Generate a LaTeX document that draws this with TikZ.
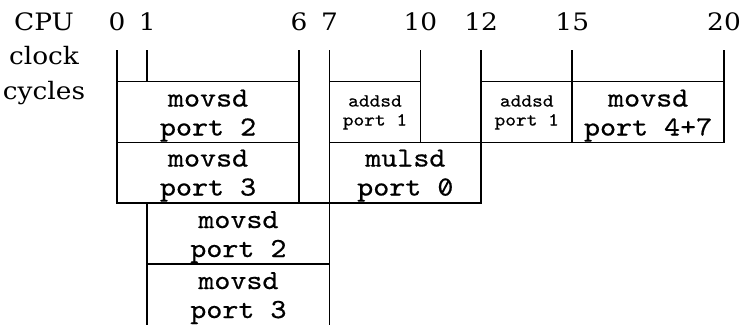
\documentclass[tikz,border=0pt]{standalone}
\usepackage{fontspec}
\usepackage{graphicx}
\newfontfamily\labelfont[FakeStretch=1.1]{DejaVu Serif}
\newfontfamily\opfont[FakeStretch=1.11,FakeBold=0.6]{lmmono10-regular.otf}
% slashed zero for the port numbers
\newcommand\slzero{\ooalign{0\cr\hidewidth\raisebox{0.28em}{\rotatebox[origin=c]{62}{\rule{0.46em}{0.07em}}}\hidewidth\cr}}
% centred lines, baseline on the first line
\newcommand\twoline[2]{\begin{tabular}[t]{@{}c@{}}#1\\#2\end{tabular}}
\newcommand\threeline[3]{\begin{tabular}[t]{@{}c@{}}#1\\#2\\#3\end{tabular}}
\begin{document}
\begin{tikzpicture}[x=30.35pt, y=-1pt, line width=1.8pt,
  cellbox/.style n args={2}{draw, rectangle, inner sep=0pt, outer sep=0pt,
    anchor=north west, minimum width=#1*30.35pt, minimum height=#2pt},
  bigop/.style={font=\opfont\fontsize{27.5}{29}\selectfont, inner sep=0pt,
    anchor=base, yshift=-25pt},
  smallop/.style={font=\opfont\fontsize{18.4}{19}\selectfont, inner sep=0pt,
    anchor=base, yshift=-25pt},
  axislabel/.style={font=\labelfont\fontsize{24}{35}\selectfont, inner sep=0pt,
    anchor=base}]
\useasboundingbox (-117/30.35,0) rectangle (627/30.35,324);

% axis title and cycle numbers
\node[axislabel] (title) at (-2.405,30) {\threeline{CPU}{clock}{cycles}};
\node[axislabel] (cyc0) at (0,30.5) {0};
\node[axislabel] (cyc1) at (1,30.5) {1};
\node[axislabel] (cyc6) at (6,30.5) {6};
\node[axislabel] (cyc7) at (7,30.5) {7};
\node[axislabel] (cyc10) at (10,30.5) {10};
\node[axislabel] (cyc12) at (12,30.5) {12};
\node[axislabel] (cyc15) at (15,30.5) {15};
\node[axislabel] (cyc20) at (20,30.5) {20};

% tick marks
\foreach \c in {0,1,6,7,10,12,15,20}
  \draw (\c,50) -- (\c,81.5);

% first row
\node[cellbox={6}{61}] (b1) at (0,81.5) {};
\node[cellbox={3}{61}] (b2) at (7,81.5) {};
\node[cellbox={3}{61}] (b3) at (12,81.5) {};
\node[cellbox={5}{61}] (b4) at (15,81.5) {};
% second row
\node[cellbox={6}{60.5}] (b5) at (0,142.5) {};
\node[cellbox={5}{60.5}] (b6) at (7,142.5) {};
% third and fourth rows
\node[cellbox={6}{61}] (b7) at (1,203) {};
\node[cellbox={6}{62}] (b8) at (1,264) {};

% instruction texts
\node[bigop] (t1) at (b1.north) {\twoline{movsd}{port 2}};
\node[smallop] (t2) at (b2.north) {\twoline{addsd}{port 1}};
\node[smallop] (t3) at (b3.north) {\twoline{addsd}{port 1}};
\node[bigop] (t4) at (b4.north) {\twoline{movsd}{port 4+7}};
\node[bigop, yshift=1pt] (t5) at (b5.north) {\twoline{movsd}{port 3}};
\node[bigop, yshift=1pt] (t6) at (b6.north) {\twoline{mulsd}{port \slzero}};
\node[bigop] (t7) at (b7.north) {\twoline{movsd}{port 2}};
\node[bigop] (t8) at (b8.north) {\twoline{movsd}{port 3}};
\end{tikzpicture}
\end{document}
